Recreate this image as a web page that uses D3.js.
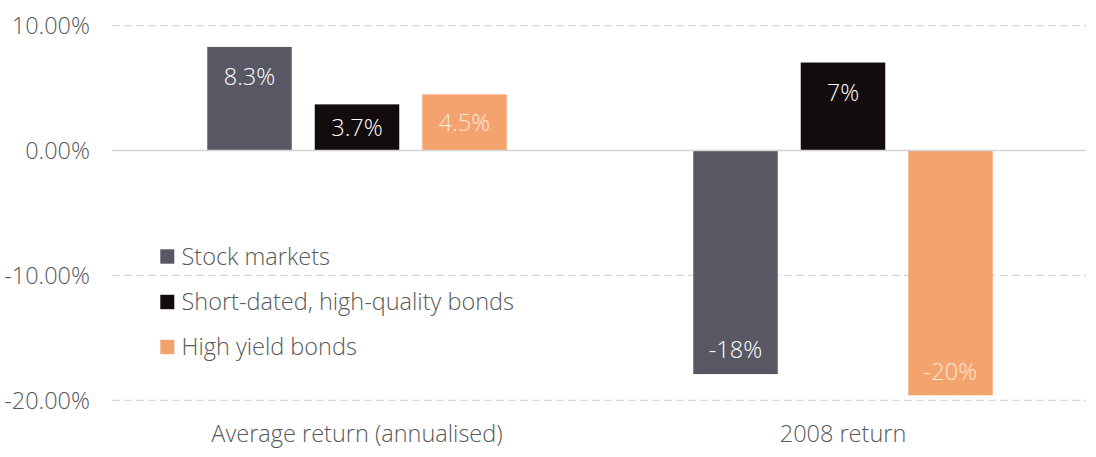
<!DOCTYPE html>
<html>
<head>
<meta charset="utf-8">
<script src="https://cdn.jsdelivr.net/npm/d3@7"></script>
<style>
  html, body { margin: 0; padding: 0; background: #ffffff; }
  svg { display: block; }
  svg text { font-family: "Open Sans", "Noto Sans", sans-serif; font-weight: 300; }
</style>
</head>
<body>
<svg id="chart" width="1096" height="457"></svg>
<script>
// ---- data ----
const categories = ["Average return (annualised)", "2008 return"];
const seriesNames = ["Stock markets", "Short-dated, high-quality bonds", "High yield bonds"];
const seriesColors = ["#575864", "#120c0c", "#f4a36e"];
const labelColors = ["#ffffff", "#ffffff", "#fde8d6"];
const stockValues = [8.3, -17.9];
const bondValues = [3.7, 7.05];
const highYieldValues = [4.5, -19.6];
const stockLabels = ["8.3%", "-18%"];
const bondLabels = ["3.7%", "7%"];
const highYieldLabels = ["4.5%", "-20%"];
const yTicks = [-20, -10, 0, 10];

const seriesValues = [stockValues, bondValues, highYieldValues];
const seriesLabels = [stockLabels, bondLabels, highYieldLabels];

// ---- layout ----
const svg = d3.select("#chart");
const plotLeft = 112, plotRight = 1086;

const x = d3.scaleBand().domain(categories).range([114, 1086]).paddingInner(0).paddingOuter(0);
const xInner = d3.scaleBand().domain(seriesNames).range([-149.75, 149.75]).paddingInner(0.214).paddingOuter(0);
const y = d3.scaleLinear().domain([-20, 10]).range([400.3, 25.7]);

const fontSize = 23.5;
const fontFamily = '"Open Sans", "Noto Sans", sans-serif';

// gridlines
const grid = svg.append("g");
grid.selectAll("line").data(yTicks.filter(t => t !== 0)).enter().append("line")
  .attr("x1", plotLeft).attr("x2", plotRight)
  .attr("y1", d => y(d)).attr("y2", d => y(d))
  .attr("stroke", "#d9d9d9").attr("stroke-width", 1.3)
  .attr("stroke-dasharray", "8,4");

// y axis labels via d3 axis
const fmtPct = d => (d < 0 ? "-" : "") + Math.abs(d).toFixed(2) + "%";
const yAxis = d3.axisLeft(y).tickValues(yTicks).tickSize(0).tickPadding(0).tickFormat(fmtPct);
const yg = svg.append("g").attr("transform", "translate(90,0)").call(yAxis)
  .attr("font-family", fontFamily).attr("font-size", fontSize);
yg.select(".domain").remove();
yg.selectAll("text").attr("fill", "#595959").attr("dy", "0.35em");

// bars
const rows = [];
categories.forEach((c, ci) => {
  seriesNames.forEach((s, si) => {
    rows.push({cat: c, series: s, si, value: seriesValues[si][ci], label: seriesLabels[si][ci]});
  });
});

const bars = svg.append("g");
bars.selectAll("rect").data(rows).enter().append("rect")
  .attr("x", d => x(d.cat) + x.bandwidth() / 2 + xInner(d.series))
  .attr("width", xInner.bandwidth())
  .attr("y", d => y(Math.max(0, d.value)))
  .attr("height", d => Math.abs(y(d.value) - y(0)))
  .attr("fill", d => seriesColors[d.si]);

// zero line
svg.append("line")
  .attr("x1", plotLeft).attr("x2", plotRight)
  .attr("y1", y(0)).attr("y2", y(0))
  .attr("stroke", "#d4d4d4").attr("stroke-width", 1.5);

// data labels
bars.selectAll("text").data(rows).enter().append("text")
  .attr("x", d => x(d.cat) + x.bandwidth() / 2 + xInner(d.series) + xInner.bandwidth() / 2)
  .attr("y", d => {
    const h = Math.abs(y(d.value) - y(0));
    return d.value >= 0 ? y(d.value) + Math.min(30, h / 2) : y(d.value) - 24;
  })
  .attr("dy", "0.35em")
  .attr("text-anchor", "middle")
  .attr("fill", d => labelColors[d.si])
  .style("font-size", fontSize + "px")
  .text(d => d.label);

// category labels
const xAxis = d3.axisBottom(x).tickSize(0).tickPadding(0);
const xg = svg.append("g").attr("transform", "translate(0,433.5)").call(xAxis)
  .attr("font-family", fontFamily).attr("font-size", fontSize);
xg.select(".domain").remove();
xg.selectAll("text").attr("fill", "#595959").attr("dy", "0.35em");

// legend
const legend = svg.append("g");
const legendY = [256.5, 302, 347];
seriesNames.forEach((s, i) => {
  legend.append("rect").attr("x", 160.3).attr("y", legendY[i] - 7.2)
    .attr("width", 14).attr("height", 14.4).attr("fill", seriesColors[i]);
  legend.append("text").attr("x", 181.5).attr("y", legendY[i]).attr("dy", "0.35em")
    .attr("fill", "#595959").style("font-size", fontSize + "px").text(s);
});
</script>
</body>
</html>
